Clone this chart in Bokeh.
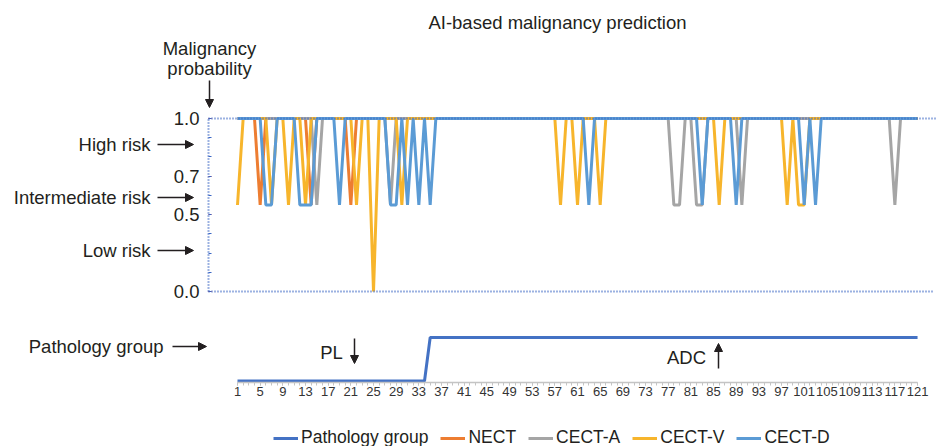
from bokeh.plotting import figure
from bokeh.models import Range1d, FixedTicker, Label, Arrow, NormalHead, Legend, LegendItem
from bokeh.embed import file_html
from bokeh.resources import INLINE

# ---------------- data ----------------
CASES = list(range(1, 122))
PATHOLOGY = [0] * 34 + [1] * 87          # 0 = PL, 1 = ADC

NECT = [1, 1, 1, 1, .5, 1, 1, 1, 1, 1,
        1, 1, 1, .5, 1, 1, 1, 1, 1, 1,
        .5, 1, 1, 1, 1, 1, 1, 1, 1, 1,
        1, 1, 1, 1, 1, 1, 1, 1, 1, 1,
        1, 1, 1, 1, 1, 1, 1, 1, 1, 1,
        1, 1, 1, 1, 1, 1, 1, 1, 1, 1,
        1, 1, 1, 1, 1, 1, 1, 1, 1, 1,
        1, 1, 1, 1, 1, 1, 1, 1, 1, 1,
        1, 1, 1, 1, 1, 1, 1, 1, 1, 1,
        1, 1, 1, 1, 1, 1, 1, 1, 1, 1,
        1, 1, 1, 1, 1, 1, 1, 1, 1, 1,
        1, 1, 1, 1, 1, 1, 1, 1, 1, 1,
        1]
CECT_A = [1, 1, 1, 1, 1, 1, 1, 1, 1, 1,
          1, 1, 1, 1, .5, 1, 1, 1, 1, 1,
          1, 1, 1, 1, 1, 1, 1, .5, 1, 1,
          1, 1, 1, 1, 1, 1, 1, 1, 1, 1,
          1, 1, 1, 1, 1, 1, 1, 1, 1, 1,
          1, 1, 1, 1, 1, 1, 1, 1, 1, 1,
          1, 1, 1, 1, 1, 1, 1, 1, 1, 1,
          1, 1, 1, 1, 1, 1, 1, .5, .5, 1,
          1, .5, .5, 1, 1, 1, 1, 1, 1, .5,
          1, 1, 1, 1, 1, 1, 1, 1, 1, 1,
          1, 1, 1, 1, 1, 1, 1, 1, 1, 1,
          1, 1, 1, 1, 1, 1, .5, 1, 1, 1,
          1]
CECT_V = [.5, 1, 1, 1, 1, 1, .5, 1, 1, .5,
          1, 1, .5, 1, 1, 1, 1, 1, 1, 1,
          1, .5, 1, 1, 0.0, 1, 1, 1, 1, .5,
          1, 1, 1, 1, 1, 1, 1, 1, 1, 1,
          1, 1, 1, 1, 1, 1, 1, 1, 1, 1,
          1, 1, 1, 1, 1, 1, 1, .5, 1, 1,
          .5, 1, 1, 1, .5, 1, 1, 1, 1, 1,
          1, 1, 1, 1, 1, 1, 1, 1, 1, 1,
          1, 1, 1, 1, 1, .5, 1, 1, 1, 1,
          1, 1, 1, 1, 1, 1, 1, .5, 1, .5,
          .5, 1, 1, 1, 1, 1, 1, 1, 1, 1,
          1, 1, 1, 1, 1, 1, 1, 1, 1, 1,
          1]
CECT_D = [1, 1, 1, 1, 1, .5, .5, 1, 1, 1,
          1, .5, .5, .5, 1, 1, 1, 1, .5, 1,
          1, 1, 1, 1, 1, 1, 1, .5, .5, 1,
          .5, 1, .5, 1, .5, 1, 1, 1, 1, 1,
          1, 1, 1, 1, 1, 1, 1, 1, 1, 1,
          1, 1, 1, 1, 1, 1, 1, 1, 1, 1,
          1, 1, .5, 1, 1, 1, 1, 1, 1, 1,
          1, 1, 1, 1, 1, 1, 1, 1, 1, 1,
          1, 1, .5, 1, 1, 1, 1, 1, .5, 1,
          1, 1, 1, 1, 1, 1, 1, 1, 1, 1,
          .5, 1, .5, 1, 1, 1, 1, 1, 1, 1,
          1, 1, 1, 1, 1, 1, 1, 1, 1, 1,
          1]

SERIES_NAMES = ["NECT", "CECT-A", "CECT-V", "CECT-D"]
SERIES_VALUES = [NECT, CECT_A, CECT_V, CECT_D]
SERIES_COLORS = ["#ED7D31", "#A5A5A5", "#F7B52C", "#5B9BD5"]
PATH_NAME = "Pathology group"
PATH_COLOR = "#4472C4"
DOT_COLOR = "#3b66c4"

X_TICKS = list(range(1, 122, 4))
Y_TICKS = [0.0, 4 / 9, 6 / 9, 1.0]
Y_TICK_LABELS = ["0.0", "0.5", "0.7", "1.0"]

FONT = "Liberation Sans"
TEXT = "#231f20"

# ---------------- layout helpers (canvas pixels -> data units) ----------------
W, H = 936, 446
S = 5.667          # pixels per case
X1_PX = 237        # canvas x of case 1


def dx(px):
    return 1 + (px - X1_PX) / S


def dy(py):
    return (291 - py) / 173.0


p = figure(width=W, height=H, output_backend="svg", toolbar_location=None,
           x_range=Range1d(dx(0), dx(W)), y_range=Range1d(dy(H), dy(0)),
           min_border_left=0, min_border_right=0, min_border_top=0,
           min_border_bottom=0)
p.extra_y_ranges = {"path": Range1d((380.5 - H) / 43.5, 380.5 / 43.5)}
p.outline_line_color = None
p.background_fill_color = "white"
p.grid.visible = False

# x axis
xa = p.xaxis[0]
xa.fixed_location = dy(381.5)
xa.ticker = FixedTicker(ticks=X_TICKS, minor_ticks=CASES)
xa.bounds = (1, 121)
xa.axis_line_color = "#c4c4c4"
xa.axis_line_width = 1.5
xa.major_tick_line_color = "#c4c4c4"
xa.minor_tick_line_color = "#c4c4c4"
xa.major_tick_in = 0
xa.major_tick_out = 3
xa.minor_tick_in = 0
xa.minor_tick_out = 3
xa.major_label_standoff = 2
xa.major_label_text_font = FONT
xa.major_label_text_font_size = "13px"
xa.major_label_text_color = "#333333"

# y axis (probability)
ya = p.yaxis[0]
ya.fixed_location = dx(208)
ya.ticker = FixedTicker(ticks=Y_TICKS, minor_ticks=[k / 9 for k in range(10)])
ya.bounds = (0, 1)
ya.major_label_overrides = dict(zip(Y_TICKS, Y_TICK_LABELS))
ya.axis_line_color = DOT_COLOR
ya.axis_line_dash = "1 2"
ya.axis_line_width = 2
ya.major_tick_line_color = "#e8413c"
ya.major_tick_in = 3
ya.major_tick_out = 0
ya.minor_tick_line_color = DOT_COLOR
ya.minor_tick_in = 3
ya.minor_tick_out = 0
ya.major_label_standoff = 9
ya.major_label_text_font = FONT
ya.major_label_text_font_size = "18.5px"
ya.major_label_text_color = TEXT

renderers = []
for vals, col in zip(SERIES_VALUES, SERIES_COLORS):
    renderers.append(p.line(CASES, vals, color=col, line_width=3))
path_r = p.line(CASES, PATHOLOGY, y_range_name="path", color=PATH_COLOR, line_width=3)

# dotted reference lines at the ends of the probability axis
p.segment(x0=[dx(208), dx(208)], y0=[Y_TICKS[0], Y_TICKS[-1]],
          x1=[dx(932), dx(W)], y1=[Y_TICKS[0], Y_TICKS[-1]],
          line_color=DOT_COLOR, line_width=2, line_dash="1 2")


def label(px, py, text, align="center", size="18.5px"):
    p.add_layout(Label(x=dx(px), y=dy(py), text=text, text_align=align,
                       text_baseline="middle", text_font=FONT,
                       text_font_size=size, text_color=TEXT))


def arrow(px0, py0, px1, py1):
    p.add_layout(Arrow(end=NormalHead(size=8, fill_color=TEXT, line_color=TEXT),
                       x_start=dx(px0), y_start=dy(py0), x_end=dx(px1), y_end=dy(py1),
                       line_color=TEXT, line_width=1.5))


label(557, 22, "AI-based malignancy prediction")
label(209, 48, "Malignancy")
label(209, 68, "probability")
arrow(209, 80, 209, 107)
label(150, 144, "High risk", "right")
arrow(157, 144, 193, 144)
label(150, 197, "Intermediate risk", "right")
arrow(157, 197, 193, 197)
label(150, 250, "Low risk", "right")
arrow(157, 250, 193, 250)
label(163, 346, "Pathology group", "right")
arrow(172, 346, 206, 346)
label(331, 352, "PL")
arrow(354, 338, 354, 363)
label(686, 357, "ADC")
arrow(718, 368, 718, 343)

# ---------------- legend ----------------
items = [LegendItem(label=PATH_NAME, renderers=[path_r])]
for name, r in zip(SERIES_NAMES, renderers):
    items.append(LegendItem(label=name, renderers=[r]))
legend = Legend(items=items, orientation="horizontal", location=(273, -2),
                glyph_width=25, glyph_height=20, label_height=20, label_standoff=3,
                spacing=12, padding=0, margin=0, border_line_color=None,
                background_fill_alpha=0, label_text_font=FONT,
                label_text_font_size="17.5px", label_text_color=TEXT)
p.add_layout(legend)

open("out.html", "w").write(file_html(p, INLINE))
